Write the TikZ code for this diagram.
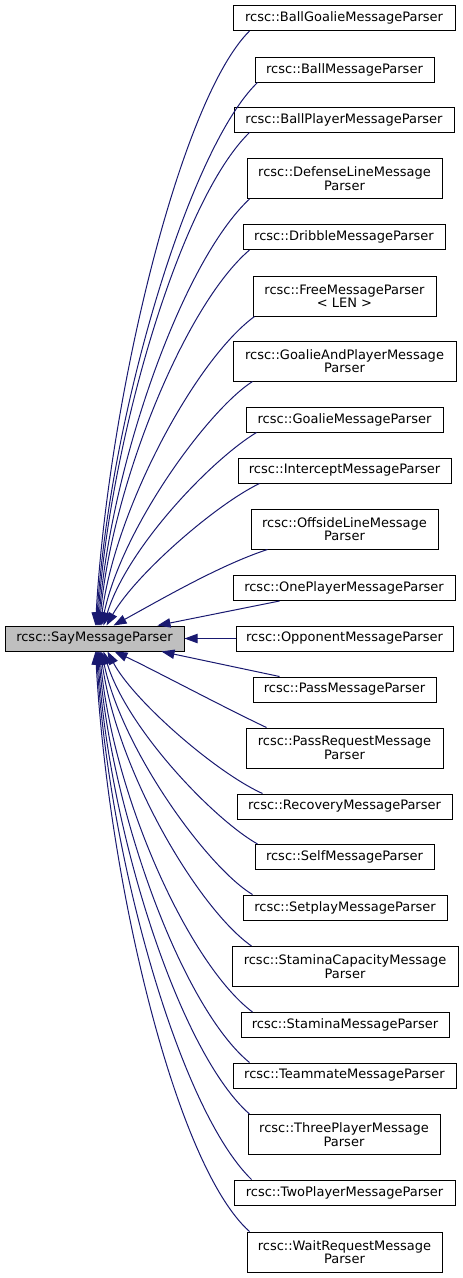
\documentclass[tikz,border=0pt]{standalone}
\usepackage{fontspec}
\setmainfont{DejaVu Sans}
\usetikzlibrary{arrows.meta,calc}
\definecolor{edgeblue}{RGB}{25,25,112}
\definecolor{greyfill}{RGB}{191,191,191}
\tikzset{
  cls/.style={draw=black, line width=0.75pt, fill=white, inner sep=0pt, align=center,
              font=\fontsize{9.75pt}{10pt}\selectfont},
  oneline/.style={minimum height=18.75pt},
  twoline/.style={minimum height=30pt},
  edge/.style={draw=edgeblue, line width=0.75pt, -{Triangle[length=9.75pt,width=7pt]}}
}
\begin{document}
\begin{tikzpicture}[x=0.75pt,y=-0.75pt]
\useasboundingbox (0,0) rectangle (463,1278);

\node[cls,oneline,minimum width=134.25pt,fill=greyfill] (say) at (94.5,638.5) {rcsc::SayMessageParser};

\node[cls,oneline,minimum width=166.5pt] (n1) at (344,18) {rcsc::BallGoalieMessageParser};
\node[cls,oneline,minimum width=134.25pt] (n2) at (344.5,69.5) {rcsc::BallMessageParser};
\node[cls,oneline,minimum width=165pt] (n3) at (344,119.5) {rcsc::BallPlayerMessageParser};
\node[cls,twoline,minimum width=146.25pt] (n4) at (344.5,178.5) {rcsc::DefenseLineMessage\\Parser};
\node[cls,oneline,minimum width=151.5pt] (n5) at (344,237) {rcsc::DribbleMessageParser};
\node[cls,twoline,minimum width=137.25pt] (n6) at (344.5,296) {rcsc::FreeMessageParser\\< LEN >};
\node[cls,twoline,minimum width=167.25pt] (n7) at (344.5,361) {rcsc::GoalieAndPlayerMessage\\Parser};
\node[cls,oneline,minimum width=147.75pt] (n8) at (344.5,419.5) {rcsc::GoalieMessageParser};
\node[cls,oneline,minimum width=159.75pt] (n9) at (344.5,470.5) {rcsc::InterceptMessageParser};
\node[cls,twoline,minimum width=140.25pt] (n10) at (344.5,529) {rcsc::OffsideLineMessage\\Parser};
\node[cls,oneline,minimum width=166.5pt] (n11) at (344,588) {rcsc::OnePlayerMessageParser};
\node[cls,oneline,minimum width=162.75pt] (n12) at (344.5,638.5) {rcsc::OpponentMessageParser};
\node[cls,oneline,minimum width=137.25pt] (n13) at (344.5,689.5) {rcsc::PassMessageParser};
\node[cls,twoline,minimum width=147.75pt] (n14) at (344.5,748) {rcsc::PassRequestMessage\\Parser};
\node[cls,oneline,minimum width=161.25pt] (n15) at (344.5,806.5) {rcsc::RecoveryMessageParser};
\node[cls,oneline,minimum width=134.25pt] (n16) at (344.5,857) {rcsc::SelfMessageParser};
\node[cls,oneline,minimum width=153pt] (n17) at (345,907.5) {rcsc::SetplayMessageParser};
\node[cls,twoline,minimum width=169.5pt] (n18) at (345,966.5) {rcsc::StaminaCapacityMessage\\Parser};
\node[cls,oneline,minimum width=156pt] (n19) at (345,1025) {rcsc::StaminaMessageParser};
\node[cls,oneline,minimum width=167.25pt] (n20) at (344.5,1075.5) {rcsc::TeammateMessageParser};
\node[cls,twoline,minimum width=144pt] (n21) at (344,1134.5) {rcsc::ThreePlayerMessage\\Parser};
\node[cls,oneline,minimum width=165.75pt] (n22) at (344.5,1192.5) {rcsc::TwoPlayerMessageParser};
\node[cls,twoline,minimum width=146.25pt] (n23) at (344.5,1252) {rcsc::WaitRequestMessage\\Parser};

% upper edges
\draw[edge] ($(n1.south west)+(17,0)$) .. controls (180,100) and (108,400) .. ($(say.north west)+(91,0)$);
\draw[edge] ($(n2.south west)+(3,0)$) .. controls (188,150) and (109,420) .. ($(say.north west)+(92,0)$);
\draw[edge] ($(n3.south west)+(16,0)$) .. controls (180,200) and (110,440) .. ($(say.north west)+(93,0)$);
\draw[edge] ($(n4.south west)+(3,0)$) .. controls (182,262) and (111,465) .. ($(say.north west)+(94,0)$);
\draw[edge] ($(n5.south west)+(7,0)$) .. controls (185,305) and (112,485) .. ($(say.north west)+(95,0)$);
\draw[edge] ($(n6.south west)+(2,0)$) .. controls (195,360) and (115,510) .. ($(say.north west)+(96,0)$);
\draw[edge] ($(n7.south west)+(20,0)$) .. controls (208,410) and (122,528) .. ($(say.north west)+(97,0)$);
\draw[edge] ($(n8.south west)+(11,0)$) .. controls (211,460) and (127,548) .. ($(say.north west)+(99,0)$);
\draw[edge] ($(n9.south west)+(22,0)$) .. controls (215,505) and (135,575) .. ($(say.north west)+(102,0)$);
\draw[edge] ($(n10.south west)+(17,0)$) .. controls (220,565) and (160,600) .. ($(say.north west)+(109,0)$);
\draw[edge] ($(n11.south west)+(47,0)$) -- ($(say.north west)+(153,0)$);
% middle
\draw[edge] (n12.west) -- (say.east);
% lower edges
\draw[edge] ($(n13.north west)+(27,0)$) -- ($(say.south west)+(157,0)$);
\draw[edge] ($(n14.north west)+(21,0)$) .. controls (225,708) and (150,668) .. ($(say.south west)+(110,0)$);
\draw[edge] ($(n15.north west)+(26,0)$) .. controls (215,772) and (133,700) .. ($(say.south west)+(103,0)$);
\draw[edge] ($(n16.north west)+(3,0)$) .. controls (212,818) and (127,728) .. ($(say.south west)+(99,0)$);
\draw[edge] ($(n17.north west)+(10,0)$) .. controls (208,868) and (122,750) .. ($(say.south west)+(97,0)$);
\draw[edge] ($(n18.north west)+(20,0)$) .. controls (200,910) and (118,775) .. ($(say.south west)+(96,0)$);
\draw[edge] ($(n19.north west)+(12,0)$) .. controls (190,965) and (114,800) .. ($(say.south west)+(95,0)$);
\draw[edge] ($(n20.north west)+(17,0)$) .. controls (185,1010) and (112,820) .. ($(say.south west)+(94,0)$);
\draw[edge] ($(n21.north west)+(2,0)$) .. controls (182,1055) and (110,840) .. ($(say.south west)+(93,0)$);
\draw[edge] ($(n22.north west)+(18,0)$) .. controls (180,1110) and (109,860) .. ($(say.south west)+(92,0)$);
\draw[edge] ($(n23.north west)+(3,0)$) .. controls (175,1165) and (108,880) .. ($(say.south west)+(91,0)$);
\end{tikzpicture}
\end{document}
